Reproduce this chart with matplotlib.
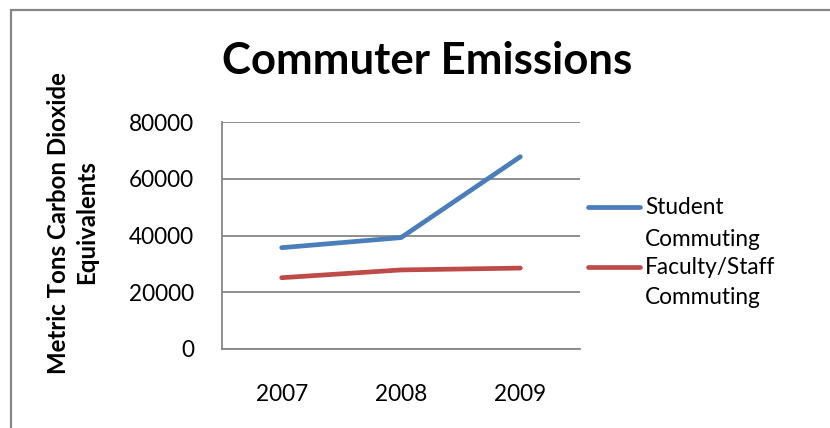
import matplotlib.pyplot as plt
from matplotlib.lines import Line2D
from matplotlib.patches import Rectangle

# Data
years = ['2007', '2008', '2009']
student = [35750, 39300, 67850]
faculty = [25150, 27900, 28550]
yticks = [0, 20000, 40000, 60000, 80000]

plt.rcParams['font.family'] = ['Lato', 'DejaVu Sans']

blue = '#4A7EBB'
red = '#BE4B48'
grey = '#868686'

fig = plt.figure(figsize=(8.30, 4.28), dpi=100)
ax = fig.add_axes([0.2675, 0.1846, 0.4313, 0.5297])

x = range(len(years))
ax.plot(x, student, color=blue, lw=3.4, solid_capstyle='round', solid_joinstyle='round')
ax.plot(x, faculty, color=red, lw=3.4, solid_capstyle='round', solid_joinstyle='round')

ax.set_xlim(-0.5, 2.5)
ax.set_ylim(0, 80000)
ax.set_yticks(yticks)
ax.set_yticklabels([str(v) for v in yticks])
ax.set_xticks(list(x))
ax.set_xticklabels(years)
ax.tick_params(length=0, labelsize=16.3)
ax.tick_params(axis='y', pad=20)
ax.tick_params(axis='x', pad=25)

# Grilla
ax.yaxis.grid(color=grey, lw=1.3)
ax.set_axisbelow(True)

# Spines
for s in ['top', 'right']:
    ax.spines[s].set_visible(False)
for s in ['left', 'bottom']:
    ax.spines[s].set_color(grey)
    ax.spines[s].set_linewidth(1.3)

# Titulo
fig.text(427 / 830, 1 - 61 / 428, 'Commuter Emissions', ha='center', va='center',
         fontsize=31.5, fontweight='bold')

# Eje Y
fig.text(58 / 830, 1 - 223 / 428, 'Metric Tons Carbon Dioxide', rotation=90,
         ha='center', va='center', fontsize=17.3, fontweight='bold')
fig.text(87 / 830, 1 - 222 / 428, 'Equivalents', rotation=90,
         ha='center', va='center', fontsize=17.3, fontweight='bold')

# Leyenda manual
fig.add_artist(Line2D([588 / 830, 640 / 830], [1 - 207 / 428] * 2, color=blue, lw=3.4,
                      solid_capstyle='round'))
fig.add_artist(Line2D([588 / 830, 640 / 830], [1 - 267 / 428] * 2, color=red, lw=3.4,
                      solid_capstyle='round'))
fig.text(645 / 830, 1 - 207 / 428, 'Student', va='center', fontsize=16.3)
fig.text(645 / 830, 1 - 240 / 428, 'Commuting', va='center', fontsize=16.3)
fig.text(645 / 830, 1 - 268 / 428, 'Faculty/Staff', va='center', fontsize=16.3)
fig.text(645 / 830, 1 - 298 / 428, 'Commuting', va='center', fontsize=16.3)

# Borde
fig.add_artist(Rectangle((11 / 830, -0.1), 1.1, 1.1 - 10 / 428, transform=fig.transFigure,
                         fill=False, edgecolor=grey, lw=1.6))

fig.savefig('out.png', dpi=100)
